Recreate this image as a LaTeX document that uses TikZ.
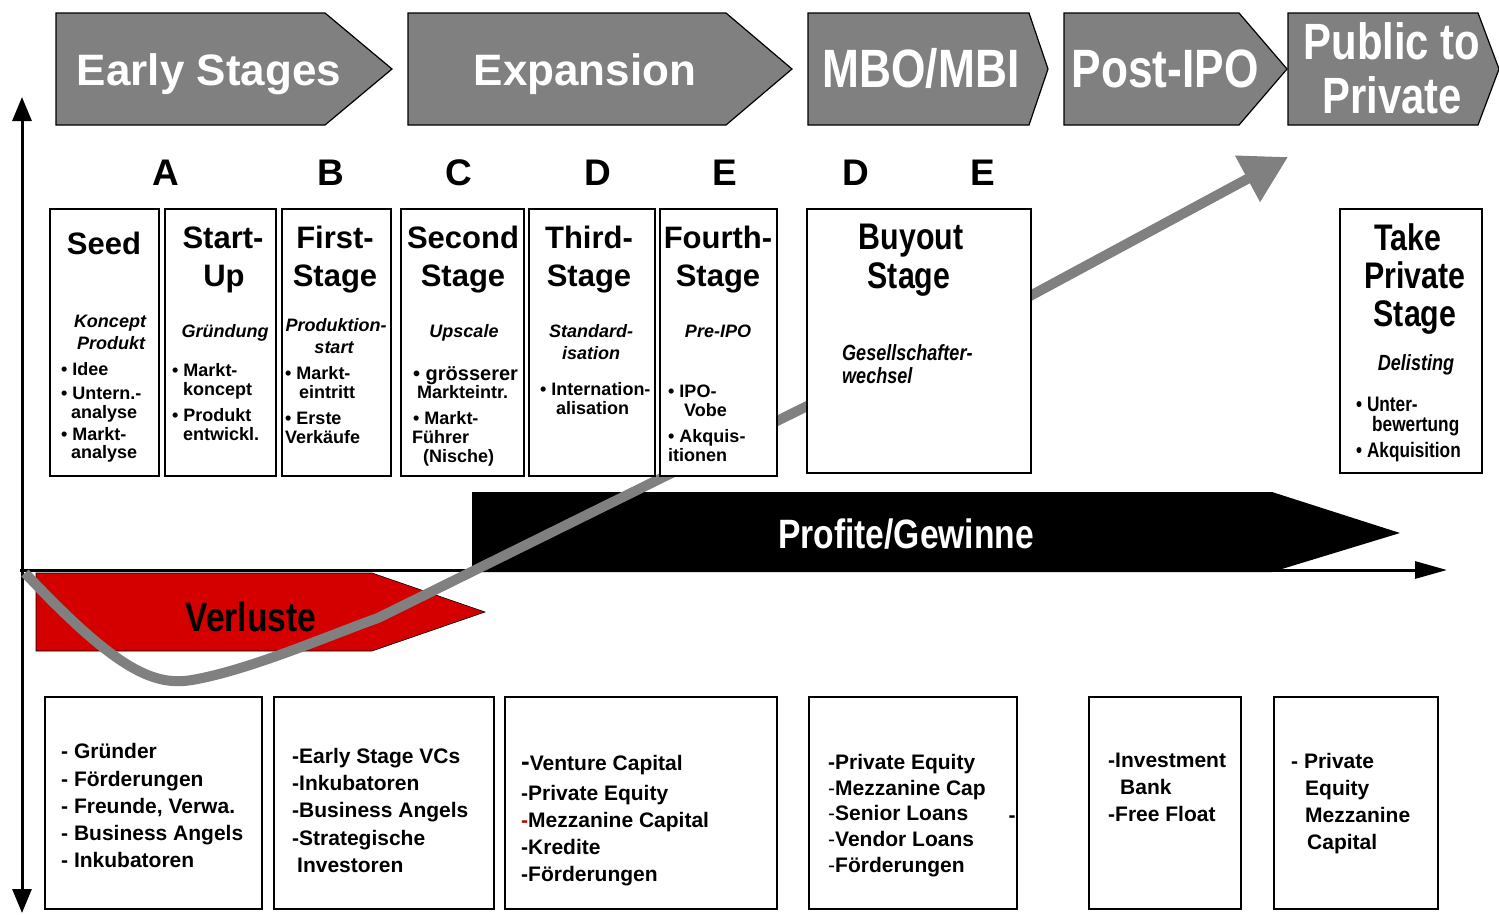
\documentclass[tikz,border=0pt]{standalone}
\usepackage{fontspec}
\setmainfont{Liberation Sans}
\newfontfamily\narrowfont{Liberation Sans}[FakeStretch=0.82]
\usetikzlibrary{arrows.meta}
\definecolor{bannergray}{HTML}{808080}
\definecolor{lossred}{RGB}{212,0,0}
\definecolor{curvegray}{HTML}{808080}
\definecolor{dashred}{HTML}{C00000}
\newcommand\fs[1]{\fontsize{#1}{#1}\selectfont}
\begin{document}
\begin{tikzpicture}[x=1pt,y=-1pt,
  banner/.style={fill=bannergray,draw=black,line width=1.2pt},
  boxstyle/.style={draw=black,line width=2.4pt,fill=white,inner sep=0pt,anchor=north west},
  lw/.style={anchor=mid west,inner sep=0pt},
  lc/.style={anchor=mid,inner sep=0pt},
  axisline/.style={line width=3pt,draw=black},
  curve/.style={draw=curvegray,line width=10pt,line join=round},
  bantext/.style={lc,text=white,font=\bfseries\fs{44},yshift=-12.3pt},
  bannarrow/.style={lc,text=white,font=\narrowfont\bfseries\fs{54},yshift=-15pt},
  pubtext/.style={lc,text=white,font=\narrowfont\bfseries\fs{51},yshift=-14.2pt},
  letter/.style={lc,font=\bfseries\fs{37},yshift=-10.4pt},
  title/.style={lc,font=\bfseries\fs{31},yshift=-8.7pt},
  ntitle/.style={lc,font=\narrowfont\bfseries\fs{37},yshift=-10.4pt},
  sub/.style={lc,font=\bfseries\itshape\fs{18},yshift=-5pt},
  bul/.style={lw,font=\bfseries\fs{18},yshift=-5pt},
  bigbul/.style={lw,font=\bfseries\fs{20},yshift=-5.6pt},
  nsub/.style={lw,font=\narrowfont\bfseries\itshape\fs{22},yshift=-6.2pt},
  nsubc/.style={lc,font=\narrowfont\bfseries\itshape\fs{22},yshift=-6.2pt},
  nbul/.style={lw,font=\narrowfont\bfseries\fs{21},yshift=-5.9pt},
  fund/.style={lw,font=\bfseries\fs{21},yshift=-5.9pt},
  fundc/.style={lc,font=\bfseries\fs{21},yshift=-5.9pt},
  bigarrowtext/.style={lc,font=\narrowfont\bfseries\fs{41},yshift=-11.5pt},
]
\useasboundingbox (0,0) rectangle (1499,914);

% ---- top banners ----
\draw[banner] (56,13) -- (325,13) -- (392,69) -- (325,125) -- (56,125) -- cycle;
\draw[banner] (408,13) -- (726,13) -- (792,69) -- (726,125) -- (408,125) -- cycle;
\draw[banner] (808,13) -- (1029,13) -- (1048,69) -- (1029,125) -- (808,125) -- cycle;
\draw[banner] (1064,13) -- (1239,13) -- (1287,69) -- (1239,125) -- (1064,125) -- cycle;
\draw[banner] (1288,13) -- (1478,13) -- (1499,69) -- (1478,125) -- (1288,125) -- cycle;
\node[bantext] (bEarly) at (209,71) {Early Stages};
\node[bantext] (bExp) at (585,71) {Expansion};
\node[bannarrow] (bMBO) at (921,70) {MBO/MBI};
\node[bannarrow] (bPost) at (1165,70) {Post-IPO};
\node[pubtext] (bPub1) at (1392,43) {Public to};
\node[pubtext] (bPub2) at (1392,97) {Private};

% ---- letters ----
\node[letter] (lA) at (166,172) {A};
\node[letter] (lB) at (331,172) {B};
\node[letter] (lC) at (459,172) {C};
\node[letter] (lD1) at (598,172) {D};
\node[letter] (lE1) at (725,172) {E};
\node[letter] (lD2) at (856,172) {D};
\node[letter] (lE2) at (983,172) {E};

% ---- axes ----
\coordinate (ytop) at (22,97);
\coordinate (ybot) at (22,913);
\coordinate (xorig) at (20,570);
\coordinate (xend) at (1447,570);
\draw[axisline,{Triangle[length=24pt,width=19pt]}-{Triangle[length=24pt,width=19pt]}] (ybot) -- (ytop);
\draw[axisline,-{Triangle[length=32pt,width=17pt]}] (xorig) -- (xend);

% ---- profit / loss arrows ----
\fill[black] (472,492) -- (1272,492) -- (1400,533) -- (1272,572) -- (472,572) -- cycle;
\draw[fill=lossred,draw=black,line width=0.6pt] (36,573) -- (372,573) -- (485,612) -- (372,651) -- (36,651) -- cycle;
\node[bigarrowtext,text=white] (profit) at (906,534) {Profite/Gewinne};
\node[bigarrowtext,text=black] (loss) at (251,617) {Verluste};

% ---- gray curve ----
\coordinate (c0) at (25,573);
\coordinate (c1) at (192,680);
\coordinate (c2) at (378,618);
\coordinate (c3) at (1030,296);
\coordinate (c4) at (1288,157);
\draw[curve,-{Triangle[length=46pt,width=50pt]}] (c0) .. controls (118,672) and (155,686) .. (c1)
  .. controls (250,670) and (330,635) .. (c2) -- (c3) -- (c4);

% ---- stage boxes ----
\node[boxstyle,minimum width=109pt,minimum height=267pt] (seed) at (49,208) {};
\node[boxstyle,minimum width=111pt,minimum height=267pt] (startup) at (164,208) {};
\node[boxstyle,minimum width=109pt,minimum height=267pt] (first) at (281,208) {};
\node[boxstyle,minimum width=123pt,minimum height=267pt] (second) at (400,208) {};
\node[boxstyle,minimum width=126pt,minimum height=267pt] (third) at (528,208) {};
\node[boxstyle,minimum width=117pt,minimum height=267pt] (fourth) at (659,208) {};
\node[boxstyle,minimum width=224pt,minimum height=264pt] (buyout) at (806,208) {};
\node[boxstyle,minimum width=142pt,minimum height=264pt] (takepriv) at (1339,208) {};

% Seed
\node[title] at (104,243) {Seed};
\node[sub] at (110,320) {Koncept};
\node[sub] at (111,342) {Produkt};
\node[bul] at (61,368) {• Idee};
\node[bul] at (61,392) {• Untern.-};
\node[bul] at (71,411) {analyse};
\node[bul] at (61,433) {• Markt-};
\node[bul] at (71,451) {analyse};
% Start-Up
\node[title] at (223,237) {Start-};
\node[title] at (224,275) {Up};
\node[sub] at (225,330) {Gründung};
\node[bul] at (172,369) {• Markt-};
\node[bul] at (183,388) {koncept};
\node[bul] at (172,414) {• Produkt};
\node[bul] at (183,433) {entwickl.};
% First-Stage
\node[title] at (335,237) {First-};
\node[title] at (335,275) {Stage};
\node[sub] at (336,324) {Produktion-};
\node[sub] at (334,346) {start};
\node[bul] at (285,372) {• Markt-};
\node[bul] at (299,391) {eintritt};
\node[bul] at (285,417) {• Erste};
\node[bul] at (285,436) {Verkäufe};
% Second Stage
\node[title] at (463,237) {Second};
\node[title] at (463,275) {Stage};
\node[sub] at (464,330) {Upscale};
\node[bigbul] at (413,372) {• grösserer};
\node[bul] at (417,391) {Markteintr.};
\node[bul] at (413,417) {• Markt-};
\node[bul] at (412,436) {Führer};
\node[bul] at (423,455) {(Nische)};
% Third-Stage
\node[title] at (589,237) {Third-};
\node[title] at (589,275) {Stage};
\node[sub] at (591,330) {Standard-};
\node[sub] at (591,352) {isation};
\node[bul] at (540,388) {• Internation-};
\node[bul] at (556,407) {alisation};
% Fourth-Stage
\node[title] at (718,237) {Fourth-};
\node[title] at (718,275) {Stage};
\node[sub] at (718,330) {Pre-IPO};
\node[bul] at (668,390) {• IPO-};
\node[bul] at (684,409) {Vobe};
\node[bul] at (668,435) {• Akquis-};
\node[bul] at (668,454) {itionen};
% Buyout Stage
\node[ntitle] at (911,236) {Buyout};
\node[ntitle] at (909,275) {Stage};
\node[nsub] at (842,352) {Gesellschafter-};
\node[nsub] at (842,375) {wechsel};
% Take Private Stage
\node[ntitle] at (1408,237) {Take};
\node[ntitle] at (1415,275) {Private};
\node[ntitle] at (1415,313) {Stage};
\node[nsubc] at (1416,362) {Delisting};
\node[nbul] at (1356,403) {• Unter-};
\node[nbul] at (1372,423) {bewertung};
\node[nbul] at (1356,449) {• Akquisition};

% ---- funding boxes ----
\node[boxstyle,minimum width=217pt,minimum height=212pt] (f1) at (44,696) {};
\node[boxstyle,minimum width=220pt,minimum height=212pt] (f2) at (273,696) {};
\node[boxstyle,minimum width=272pt,minimum height=212pt] (f3) at (504,696) {};
\node[boxstyle,minimum width=208pt,minimum height=212pt] (f4) at (808,696) {};
\node[boxstyle,minimum width=152pt,minimum height=212pt] (f5) at (1088,696) {};
\node[boxstyle,minimum width=164pt,minimum height=212pt] (f6) at (1273,696) {};

\node[fund] at (61,750) {- Gründer};
\node[fund] at (61,778) {- Förderungen};
\node[fund] at (61,805) {- Freunde, Verwa.};
\node[fund] at (61,832) {- Business Angels};
\node[fund] at (61,859) {- Inkubatoren};

\node[fund] at (292,755) {-Early Stage VCs};
\node[fund] at (292,782) {-Inkubatoren};
\node[fund] at (292,809) {-Business Angels};
\node[fund] at (292,837) {-Strategische};
\node[fund] at (297,864) {Investoren};

\node[fund] at (521,762) {{\fs{26}-}Venture Capital};
\node[fund] at (521,792) {-Private Equity};
\node[fund] at (521,819) {\textcolor{dashred}{-}Mezzanine Capital};
\node[fund] at (521,846) {-Kredite};
\node[fund] at (521,873) {-Förderungen};

\node[fund] at (828,761) {-Private Equity};
\node[fund] at (828,787) {{\mdseries-}Mezzanine Cap};
\node[fund] at (828,812) {{\mdseries-}Senior Loans};
\node[fund] at (828,838) {{\mdseries-}Vendor Loans};
\node[fund] at (828,864) {{\mdseries-}Förderungen};
\node[fundc] at (1012,814) {-};

\node[fund] at (1108,759) {-Investment};
\node[fund] at (1120,786) {Bank};
\node[fund] at (1108,813) {-Free Float};

\node[fund] at (1291,760) {- Private};
\node[fund] at (1305,787) {Equity};
\node[fund] at (1305,814) {Mezzanine};
\node[fund] at (1307,841) {Capital};
\end{tikzpicture}
\end{document}
